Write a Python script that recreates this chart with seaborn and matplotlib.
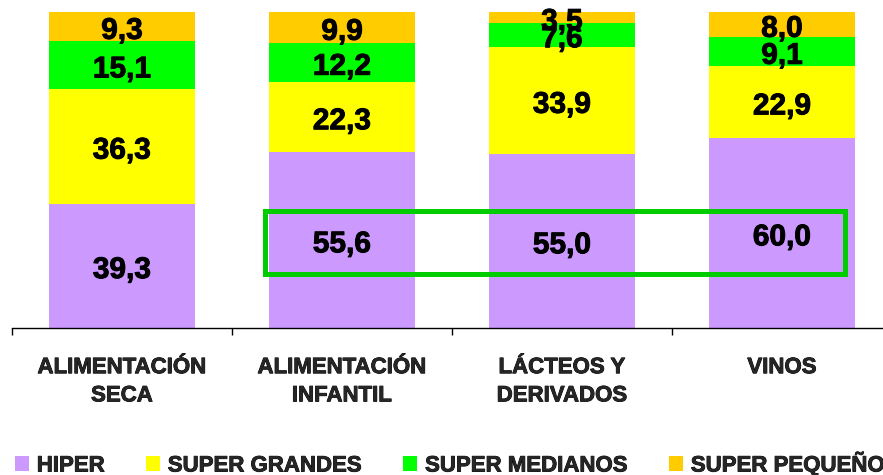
import numpy as np
import pandas as pd
import matplotlib
matplotlib.use('Agg')
import matplotlib.pyplot as plt
import matplotlib.patheffects as pe
from matplotlib.patches import Patch, Rectangle
import seaborn as sns

categories = ['ALIMENTACIÓN\nSECA', 'ALIMENTACIÓN\nINFANTIL', 'LÁCTEOS Y\nDERIVADOS', 'VINOS']
series = ['HIPER', 'SUPER GRANDES', 'SUPER MEDIANOS', 'SUPER PEQUEÑOS']
hiper = [39.3, 55.6, 55.0, 60.0]
grandes = [36.3, 22.3, 33.9, 22.9]
medianos = [15.1, 12.2, 7.6, 9.1]
pequenos = [9.3, 9.9, 3.5, 8.0]
colors = ['#CC99FF', '#FFFF00', '#00FF00', '#FFCC00']

sns.set_style('white')
plt.rcParams['font.family'] = ['Liberation Sans', 'DejaVu Sans']
plt.rcParams['font.weight'] = 'bold'

# slight stroke to get the heavy look of the original labels
heavy = [pe.withStroke(linewidth=0.7, foreground='black')]

df = pd.DataFrame({'cat': categories, 'HIPER': hiper, 'SUPER GRANDES': grandes,
                   'SUPER MEDIANOS': medianos, 'SUPER PEQUEÑOS': pequenos})
cum = df[series].cumsum(axis=1)

fig = plt.figure(figsize=(8.83, 4.75), dpi=100)
ax = fig.add_axes([12/883, (475-328)/475, 871/883, 316/475])

# draw cumulative totals, tallest first, so each layer shows as a stack
for s, c in reversed(list(zip(series, colors))):
    sns.barplot(x=df['cat'], y=cum[s], color=c, width=0.668, errorbar=None,
                saturation=1, linewidth=0, ax=ax, zorder=2)

# value labels centred in each segment
for i in range(len(categories)):
    base = 0
    for s in series:
        v = df[s][i]
        ax.annotate(f'{v:.1f}'.replace('.', ','), (i, base + v/2), xytext=(0, -3),
                    textcoords='offset points', ha='center', va='center',
                    fontsize=21.5, fontweight='bold', color='black', zorder=5,
                    path_effects=heavy)
        base += v

ax.set_xlabel('')
ax.set_ylabel('')
ax.set_yticks([])
for sp in ['left', 'right', 'top']:
    ax.spines[sp].set_visible(False)
ax.spines['bottom'].set_color('black')
ax.spines['bottom'].set_linewidth(1)
ax.set_xticks(range(len(categories)))
ax.set_xticklabels(categories, fontsize=16, fontweight='bold', linespacing=1.45)
for t in ax.get_xticklabels():
    t.set_path_effects([pe.withStroke(linewidth=0.6, foreground='black')])
ax.set_xticks(np.arange(-0.5, len(categories), 1), minor=True)
ax.tick_params(axis='x', which='major', length=0, pad=21)
ax.tick_params(axis='x', which='minor', length=5, width=1, color='black', direction='out')
ax.xaxis.set_ticks_position('bottom')
ax.set_xlim(-0.5, -0.5 + 871/220)
ax.set_ylim(0, 100)

# highlight box around the hiper values
ax.add_patch(Rectangle((0.65, 17.1), 2.636, 19.9, fill=False, edgecolor='#00CC00',
                       linewidth=3.6, clip_on=False, zorder=6))

handles = [Patch(facecolor=c, edgecolor='none', label=s) for s, c in zip(series, colors)]
leg = fig.legend(handles=handles, loc='center left', bbox_to_anchor=(15/883, 1 - 464/475),
                 ncol=4, frameon=False, borderpad=0, borderaxespad=0,
                 handlelength=0.62, handleheight=0.62, handletextpad=0.36, columnspacing=1.85,
                 prop={'weight': 'bold', 'size': 16})
for t in leg.get_texts():
    t.set_path_effects([pe.withStroke(linewidth=0.6, foreground='black')])

fig.savefig('out.png', dpi=100)
